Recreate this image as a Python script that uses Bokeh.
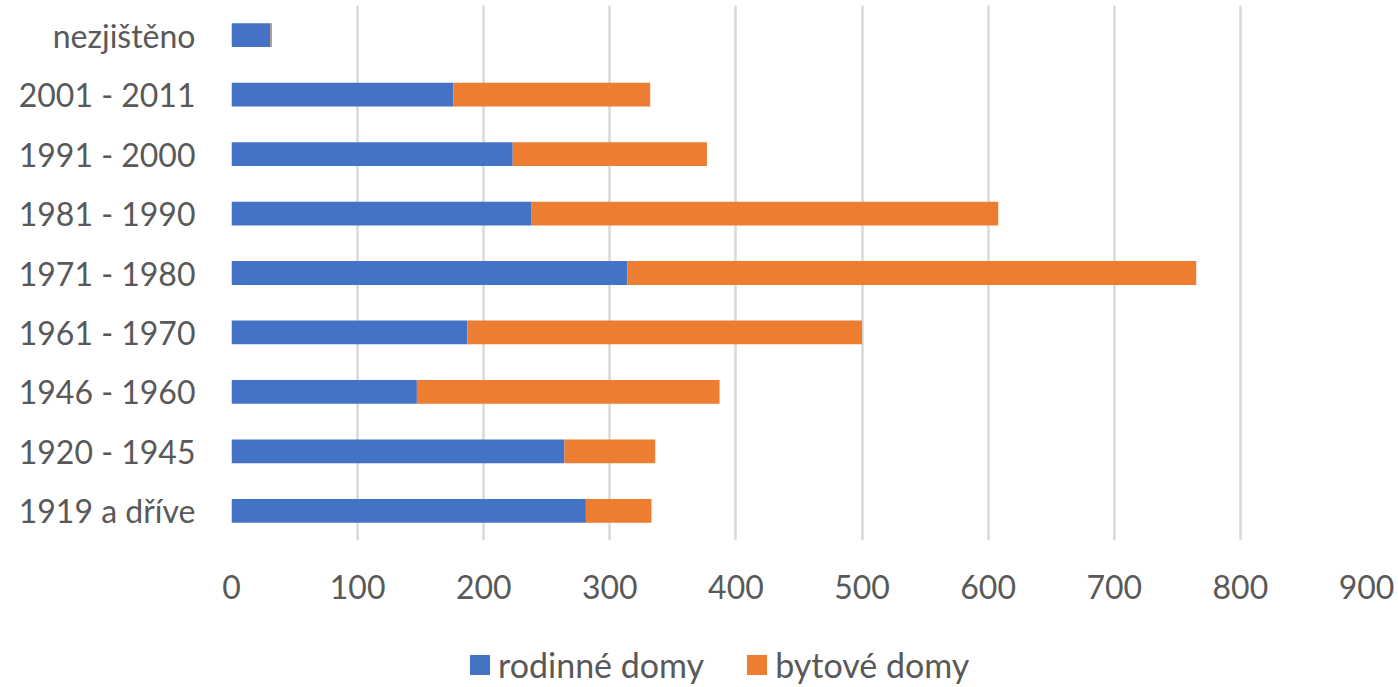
from bokeh.plotting import figure
from bokeh.layouts import column
from bokeh.models import ColumnDataSource, Range1d, FixedTicker, Legend, LegendItem
from bokeh.embed import file_html
from bokeh.resources import INLINE

categories = ["1919 a dříve", "1920 - 1945", "1946 - 1960", "1961 - 1970", "1971 - 1980",
              "1981 - 1990", "1991 - 2000", "2001 - 2011", "nezjištěno"]
rodinne = [281, 264, 147, 187, 314, 238, 223, 176, 31]
bytove = [52, 72, 240, 313, 451, 370, 154, 156, 1]
series = ["rodinné domy", "bytové domy"]
colors = ["#4472C4", "#ED7D31"]
x_ticks = [0, 100, 200, 300, 400, 500, 600, 700, 800, 900]

pos = list(range(len(categories)))
source = ColumnDataSource(dict(y=pos, r=rodinne, b=bytove))

FONT = "Lato"
FS = "32px"
p = figure(width=1398, height=630, output_backend="svg", toolbar_location=None,
           x_range=Range1d(0, 900), y_range=Range1d(-0.5, 8.5),
           min_border_left=231, min_border_right=32, min_border_top=5, min_border_bottom=90)
p.outline_line_color = None

rs = p.hbar_stack(["r", "b"], y="y", height=0.4, color=colors, source=source, line_color=None)

p.xaxis.ticker = FixedTicker(ticks=x_ticks)
p.yaxis.ticker = FixedTicker(ticks=pos)
p.yaxis.major_label_overrides = {i: c for i, c in enumerate(categories)}
for ax in (p.xaxis[0], p.yaxis[0]):
    ax.axis_line_color = None
    ax.major_tick_line_color = None
    ax.minor_tick_line_color = None
    ax.major_label_text_font = FONT
    ax.major_label_text_font_size = FS
    ax.major_label_text_color = "#595959"
p.xaxis.major_label_standoff = 28
p.yaxis.major_label_standoff = 30
p.ygrid.grid_line_color = None
p.xgrid.grid_line_color = "#d9d9d9"
p.xgrid.grid_line_width = 2.5

# legend strip below the chart (its frame is aligned with the chart's frame)
lg = figure(width=1398, height=57, output_backend="svg", toolbar_location=None,
            x_axis_type=None, y_axis_type=None,
            x_range=Range1d(0, 1), y_range=Range1d(0, 1),
            min_border_left=0, min_border_right=0, min_border_top=0, min_border_bottom=0)
lg.outline_line_color = None
lg.xgrid.grid_line_color = None
lg.ygrid.grid_line_color = None
dummy = [lg.hbar(y=[-5], left=[-5], right=[-5], height=0.4, color=c, line_color=None)
         for c in colors]
legend = Legend(items=[LegendItem(label=series[i], renderers=[dummy[i]]) for i in range(2)],
                orientation="horizontal", location=(236, 2),
                label_text_font=FONT, label_text_font_size="34px", label_text_color="#595959",
                glyph_width=25, glyph_height=25, spacing=40, label_standoff=6,
                border_line_color=None, background_fill_alpha=0, padding=0, margin=0)
lg.add_layout(legend, "center")

open("out.html", "w").write(file_html(column(p, lg, spacing=0), INLINE))
